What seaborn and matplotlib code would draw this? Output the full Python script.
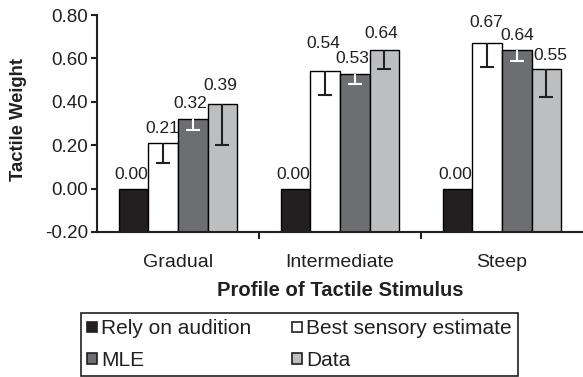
import matplotlib
matplotlib.use("Agg")
import matplotlib.pyplot as plt
from matplotlib.patches import Patch
from matplotlib.ticker import FixedLocator
import numpy as np
import pandas as pd
import seaborn as sns

categories = ["Gradual", "Intermediate", "Steep"]
series = ["Rely on audition", "Best sensory estimate", "MLE", "Data"]
rely = [0.00, 0.00, 0.00]
best = [0.21, 0.54, 0.67]
mle = [0.32, 0.53, 0.64]
data_vals = [0.39, 0.64, 0.55]
# lower ends of the (one-sided) error bars
best_low = [0.12, 0.43, 0.56]
mle_low = [0.27, 0.48, 0.59]
data_low = [0.20, 0.55, 0.42]
y_ticks = [-0.20, 0.00, 0.20, 0.40, 0.60, 0.80]

colors = ["#231f20", "#ffffff", "#6d6e71", "#bcbec0"]
err_colors = [None, "#231f20", "#ffffff", "#231f20"]
# style: offsets (points) of each value label from the top centre of its bar
label_dy = [[4.5, 4.5, 4.5], [5.4, 14.9, 9.4], [5.8, 5.8, 5.0], [8.0, 6.5, 4.7]]
label_dx = [[-1.5, -1.5, -1.5], [-1.0, -1.5, -0.5], [-1.5, -2.0, 0.5], [-1.5, -2.0, 3.2]]
baseline = -0.20

sns.set_theme(style="white")
plt.rcParams["font.family"] = ["Liberation Sans", "DejaVu Sans"]

values = [rely, best, mle, data_vals]
lows = [None, best_low, mle_low, data_low]
df = pd.DataFrame({
    "Profile": np.repeat([categories], len(series), axis=0).ravel(),
    "Series": np.repeat(series, len(categories)),
    "Weight": np.concatenate(values),
})

fig = plt.figure(figsize=(5.83, 3.77), dpi=100)
ax = fig.add_axes([97 / 583, 145 / 377, 1 - 97 / 583, (232 - 15) / 377])

sns.barplot(data=df, x="Profile", y="Weight", hue="Series", order=categories,
            hue_order=series, palette=colors, width=0.73, edgecolor="black",
            linewidth=1.0, saturation=1, legend=False, ax=ax)

# bars rise from the bottom of the axis (-0.20)
for si, (cont, vals, low, ecol) in enumerate(zip(ax.containers, values, lows, err_colors)):
    for patch in cont.patches:
        h = patch.get_height()
        patch.set_y(baseline)
        patch.set_height(h - baseline)
    xs = [p.get_x() + p.get_width() / 2 for p in cont.patches]
    for ci, (x, v) in enumerate(zip(xs, vals)):
        ax.annotate(f"{v:.2f}", (x, v),
                    xytext=(label_dx[si][ci], label_dy[si][ci]),
                    textcoords="offset points", ha="center", va="bottom",
                    fontsize=12.5, color="#231f20")
    if low is not None:
        lower = np.array(vals) - np.array(low)
        eb = ax.errorbar(xs, vals, yerr=[lower, np.zeros_like(lower)], fmt="none",
                         ecolor=ecol, elinewidth=1.5, capsize=4.7, capthick=1.5)
        caps = eb.lines[1]
        for c in caps:
            yd = np.asarray(c.get_ydata())
            if np.allclose(yd, vals):
                c.set_visible(False)

ax.set_ylim(-0.20, 0.80)
ax.set_xlim(-0.5, 2.5)
ax.set_yticks(y_ticks)
ax.set_yticklabels([f"{t:.2f}" for t in y_ticks], fontsize=13.5, color="#231f20")
ax.set_xticks(range(len(categories)))
ax.set_xticklabels(categories, fontsize=14, color="#231f20")
ax.xaxis.set_minor_locator(FixedLocator([0.5, 1.5]))
ax.tick_params(axis="x", which="major", length=0, pad=16)
ax.tick_params(axis="x", which="minor", length=5, width=1.5, direction="out",
               color="#231f20", bottom=True)
ax.tick_params(axis="y", length=4.5, width=1.5, direction="out", color="#231f20",
               left=True, pad=2)

for s in ["top", "right"]:
    ax.spines[s].set_visible(False)
for s in ["left", "bottom"]:
    ax.spines[s].set_color("#231f20")
    ax.spines[s].set_linewidth(1.5)

ax.set_xlabel("Profile of Tactile Stimulus", fontsize=14.6, fontweight="bold",
              color="#231f20", labelpad=7)
ax.set_ylabel("Tactile Weight", fontsize=13.3, fontweight="bold", color="#231f20")
ax.yaxis.set_label_coords(-0.144, 0.52)

handles = [Patch(facecolor=c, edgecolor="#231f20", linewidth=1.2, label=s)
           for c, s in zip(colors, series)]
order = [0, 2, 1, 3]
leg = fig.legend([handles[i] for i in order], [series[i] for i in order],
                 loc="upper left", bbox_to_anchor=(80.7 / 583, 1 - 313 / 377),
                 ncol=2, fontsize=15.0, frameon=True, fancybox=False,
                 framealpha=1, edgecolor="#231f20", handlelength=0.48,
                 handleheight=0.4, handletextpad=0.2, columnspacing=1.95,
                 labelspacing=0.62, borderpad=0.3, borderaxespad=0)
leg.get_frame().set_linewidth(1.2)
for t in leg.get_texts():
    t.set_color("#231f20")

fig.savefig("out.png", dpi=100)
